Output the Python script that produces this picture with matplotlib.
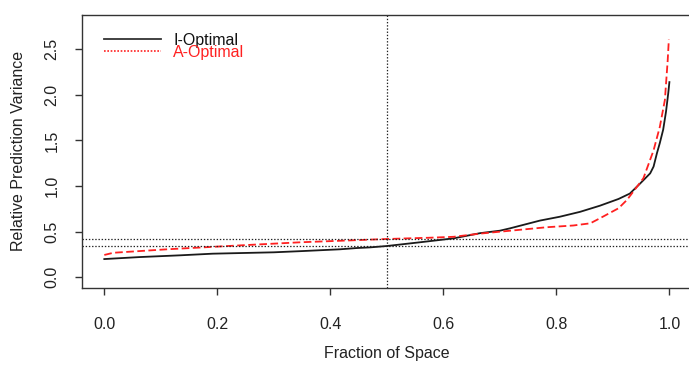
import matplotlib
matplotlib.use("Agg")
import matplotlib.pyplot as plt
from matplotlib.lines import Line2D

plt.rcParams['font.family'] = ['Liberation Sans', 'DejaVu Sans']
plt.rcParams['lines.scale_dashes'] = False

# Fraction of design space data
i_opt_x = [0.0, 0.063, 0.134, 0.192, 0.3, 0.352, 0.417, 0.447, 0.47, 0.5, 0.56, 0.618,
           0.665, 0.7, 0.718, 0.771, 0.806, 0.842, 0.877, 0.91, 0.93, 0.948, 0.966,
           0.972, 0.978, 0.983, 0.989, 0.994, 0.998, 1.0]
i_opt_y = [0.200, 0.222, 0.241, 0.259, 0.274, 0.288, 0.307, 0.321, 0.328, 0.343, 0.385, 0.427,
           0.484, 0.511, 0.537, 0.622, 0.664, 0.718, 0.785, 0.859, 0.918, 1.027, 1.14,
           1.214, 1.362, 1.471, 1.619, 1.816, 2.02, 2.14]

a_opt_x = [0.0, 0.016, 0.111, 0.228, 0.347, 0.5, 0.576, 0.618, 0.665, 0.7, 0.783, 0.83,
           0.86, 0.877, 0.91, 0.925, 0.954, 0.972, 0.983, 0.992, 0.997, 0.999]
a_opt_y = [0.245, 0.269, 0.307, 0.346, 0.384, 0.42, 0.434, 0.444, 0.479, 0.5, 0.549, 0.568,
           0.592, 0.647, 0.757, 0.849, 1.086, 1.392, 1.648, 1.944, 2.379, 2.607]

median_fraction = 0.5
i_opt_median = 0.343
a_opt_median = 0.416

x_ticks = [0.0, 0.2, 0.4, 0.6, 0.8, 1.0]
y_ticks = [0.0, 0.5, 1.0, 1.5, 2.0, 2.5]
legend_labels = ["I-Optimal", "A-Optimal"]

W, H = 689, 365
fig = plt.figure(figsize=(W / 100, H / 100), dpi=100)
left, right, top, bottom = 81.7, 692.0, 15.0, 287.7
ax = fig.add_axes([left / W, (H - bottom) / H, (right - left) / W, (bottom - top) / H])

ax.plot(i_opt_x, i_opt_y, color='#1a1a1a', lw=1.3)
ax.plot(a_opt_x, a_opt_y, color='#ff2020', lw=1.3, dashes=(5.5, 2.5))

dot = (1.0, 1.3)
ax.axvline(median_fraction, color='#222222', lw=0.9, dashes=dot)
ax.axhline(i_opt_median, color='#222222', lw=0.9, dashes=dot)
ax.axhline(a_opt_median, color='#222222', lw=0.9, dashes=dot)

ax.set_xlim(-0.04, 1.04)
ax.set_ylim(-0.114, 2.876)
ax.set_xticks(x_ticks)
ax.set_xticklabels([f"{v:.1f}" for v in x_ticks])
ax.set_yticks(y_ticks)
ax.set_yticklabels([f"{v:.1f}" for v in y_ticks], rotation=90, va='center')

for s in ax.spines.values():
    s.set_color('#333333')
    s.set_linewidth(1.0)
ax.tick_params(axis='both', length=5, width=1.0, color='#333333', labelsize=11.5,
               labelcolor='#222222')
ax.tick_params(axis='x', pad=16)
ax.tick_params(axis='y', pad=11)

ax.set_xlabel("Fraction of Space", fontsize=11.5, color='#222222', labelpad=10)
ax.set_ylabel("Relative Prediction Variance", fontsize=11.5, color='#222222', labelpad=13)

handles = [Line2D([], [], color='#333333', lw=1.3),
           Line2D([], [], color='#ff2020', lw=1.2, dashes=(1.2, 1.2))]
leg = ax.legend(handles, legend_labels, loc='upper left', bbox_to_anchor=(0.036, 0.935),
                frameon=False, fontsize=11.5, handlelength=3.6, handletextpad=0.75,
                labelspacing=-0.2, borderpad=0, borderaxespad=0)
leg.get_texts()[0].set_color('#111111')
leg.get_texts()[1].set_color('#ff2020')

fig.savefig("out.png", dpi=100)
